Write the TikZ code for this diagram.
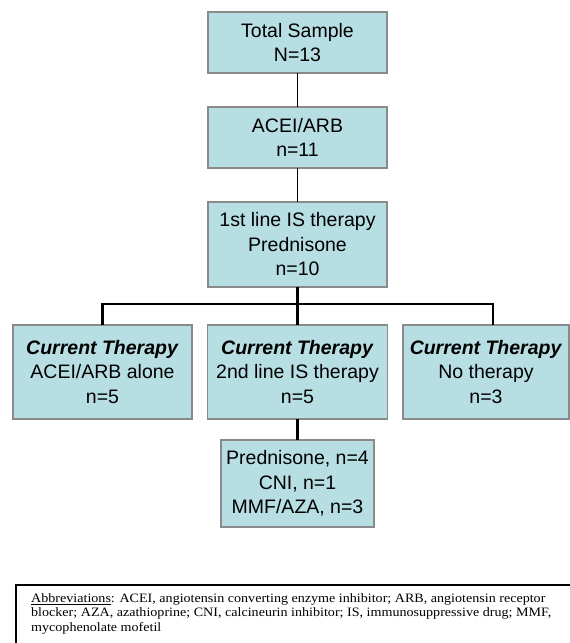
\documentclass[tikz,border=0pt]{standalone}
\usepackage{fontspec}
\setmainfont{Liberation Sans}
\newfontfamily\abbrfont[FakeStretch=1.1]{Liberation Serif}
\definecolor{boxfill}{HTML}{B7DEE2}
\definecolor{boxline}{HTML}{8A8A8A}
\begin{document}
\begin{tikzpicture}[x=1pt,y=-1pt,
  box/.style={draw=boxline, line width=1.5pt, fill=boxfill, inner sep=0pt, outer sep=0pt,
    align=center, font=\fontsize{19.5}{24.5}\selectfont},
  thin/.style={draw=black, line width=1.3pt},
  thick/.style={draw=black, line width=2.8pt}]
\useasboundingbox (0,0) rectangle (570,643);
\node[box, minimum width=179pt, minimum height=61pt] (b1) at (297.5,42.5) {Total Sample\\N=13};
\node[box, minimum width=179pt, minimum height=61pt] (b2) at (297.5,137.5) {ACEI/ARB\\n=11};
\node[box, minimum width=179pt, minimum height=85pt] (b3) at (297.5,244.5) {1st line IS therapy\\Prednisone\\n=10};
\node[box, minimum width=179pt, minimum height=94pt] (bL) at (102.5,372) {\textbf{\textit{Current Therapy}}\\ACEI/ARB alone\\n=5};
\node[box, minimum width=180pt, minimum height=94pt] (bM) at (297.5,372) {\textbf{\textit{Current Therapy}}\\2nd line IS therapy\\n=5};
\node[box, minimum width=166pt, minimum height=94pt] (bR) at (486,372) {\textbf{\textit{Current Therapy}}\\No therapy\\n=3};
\node[box, minimum width=153pt, minimum height=87pt] (bB) at (297.5,483.5) {Prednisone, n=4\\CNI, n=1\\MMF/AZA, n=3};
\coordinate (jC) at (297.5,304);
\coordinate (jL) at (102.5,304);
\coordinate (jR) at (493,304);
\draw[thin] (b1) -- (b2);
\draw[thin] (b2) -- (b3);
\draw[thick] (b3) -- (jC);
\draw[thick, line join=miter] (bL.north) -- (jL) -- (jR) -- (jR |- bR.north);
\draw[thick] (jC) -- (bM.north);
\draw[thick] (bM) -- (bB);
\coordinate (aTR) at (570,585);
\coordinate (aTL) at (16,585);
\coordinate (aBL) at (16,643);
\draw[line width=1.3pt] (aTR) -- (aTL) -- (aBL);
\node[anchor=north west, inner sep=0pt, align=left, font=\abbrfont\fontsize{12.8}{14.5}\selectfont] (abbr) at (31,593.3)
 {\underline{Abbreviations}: ACEI, angiotensin converting enzyme inhibitor; ARB, angiotensin receptor\\
 blocker; AZA, azathioprine; CNI, calcineurin inhibitor; IS, immunosuppressive drug; MMF,\\
 mycophenolate mofetil};
\end{tikzpicture}
\end{document}
